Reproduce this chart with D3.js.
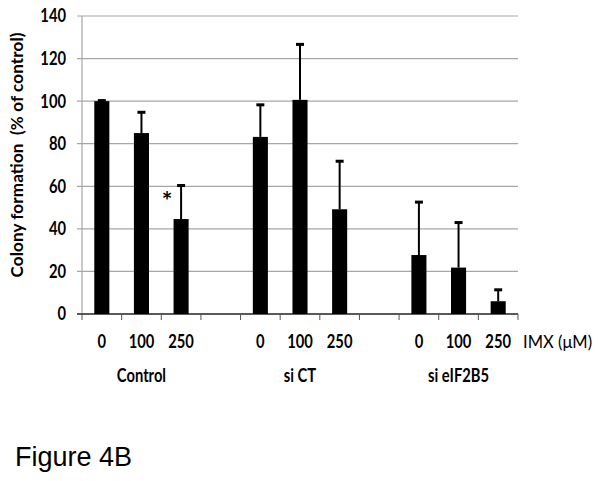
<!DOCTYPE html>
<meta charset="utf-8">
<style>
body { margin: 0; background: #fff; }
text { font-family: Lato, "Open Sans", sans-serif; }
</style>
<body>
<svg width="601" height="481"></svg>
<script src="https://d3js.org/d3.v7.min.js"></script>
<script>

// data
var groups = ["Control", "si CT", "si eIF2B5"];
var doses = ["0", "100", "250"];
var means = [100, 85, 44.6, 83.2, 100.6, 49.2, 27.7, 21.8, 6];
var errors = [0.5, 10, 16, 15.3, 26.3, 22.8, 25.1, 21.4, 5.6];
var yTicks = [0, 20, 40, 60, 80, 100, 120, 140];

var svg = d3.select("svg"),
    plotLeft = 82, plotRight = 518, plotTop = 16, plotBottom = 314;

// the labels use a narrow face, so squeeze them a bit
var squeeze = 0.82;
function at(px, py, sx) { return "translate(" + px + "," + py + ") scale(" + (sx || squeeze) + ",1)"; }

// 11 slots: 3 bars, gap, 3 bars, gap, 3 bars
var slots = [];
var bars = [];
groups.forEach(function(g, gi) {
  doses.forEach(function(d, di) {
    var key = g + "|" + d;
    slots.push(key);
    bars.push({ key: key, group: g, dose: d, value: means[gi * 3 + di], err: errors[gi * 3 + di] });
  });
  if (gi < groups.length - 1) slots.push("gap" + gi);
});

var x = d3.scaleBand().domain(slots).range([plotLeft, plotRight]).paddingInner(0.62).paddingOuter(0.31);
var y = d3.scaleLinear().domain([0, 140]).range([plotBottom, plotTop]);

// gridlines
svg.append("g")
  .selectAll("line")
  .data(yTicks.slice(1))
  .enter().append("line")
    .attr("x1", plotLeft - 5).attr("x2", plotRight)
    .attr("y1", function(d) { return y(d); })
    .attr("y2", function(d) { return y(d); })
    .attr("stroke", "#a6a6a6").attr("stroke-width", 1.2);

// y axis line
svg.append("line")
  .attr("x1", plotLeft).attr("x2", plotLeft)
  .attr("y1", plotTop).attr("y2", plotBottom)
  .attr("stroke", "#a6a6a6").attr("stroke-width", 1.2);

// y tick labels
svg.append("g")
  .selectAll("text")
  .data(yTicks)
  .enter().append("text")
    .attr("transform", function(d) { return at(66, y(d)); })
    .attr("dy", "0.36em")
    .attr("text-anchor", "end")
    .attr("font-size", 18)
    .attr("font-weight", "bold")
    .text(function(d) { return d; });

// x axis
var boundaries = d3.range(slots.length + 1).map(function(i) { return plotLeft + i * x.step(); });
svg.append("line")
  .attr("x1", plotLeft - 5).attr("x2", plotRight)
  .attr("y1", plotBottom).attr("y2", plotBottom)
  .attr("stroke", "#222").attr("stroke-width", 1.3);
svg.append("g")
  .selectAll("line")
  .data(boundaries)
  .enter().append("line")
    .attr("x1", function(d) { return d; }).attr("x2", function(d) { return d; })
    .attr("y1", plotBottom).attr("y2", plotBottom + 6)
    .attr("stroke", "#555").attr("stroke-width", 1);

// bars
svg.append("g")
  .selectAll("rect")
  .data(bars)
  .enter().append("rect")
    .attr("x", function(d) { return x(d.key); })
    .attr("width", x.bandwidth())
    .attr("y", function(d) { return y(d.value); })
    .attr("height", function(d) { return plotBottom - y(d.value); })
    .attr("fill", "#000");

// error bars (upper only)
var eb = svg.append("g").selectAll("g").data(bars).enter().append("g");
eb.append("line")
  .attr("x1", function(d) { return x(d.key) + x.bandwidth() / 2; })
  .attr("x2", function(d) { return x(d.key) + x.bandwidth() / 2; })
  .attr("y1", function(d) { return y(d.value); })
  .attr("y2", function(d) { return y(d.value + d.err); })
  .attr("stroke", "#000").attr("stroke-width", 2);
eb.append("rect")
  .attr("x", function(d) { return x(d.key) + x.bandwidth() / 2 - 4; })
  .attr("width", 8)
  .attr("y", function(d) { return y(d.value + d.err) - 1; })
  .attr("height", 3)
  .attr("fill", "#000");

// significance mark
svg.append("text")
  .attr("x", 167).attr("y", 210)
  .attr("text-anchor", "middle")
  .attr("font-size", 25).attr("font-weight", "bold")
  .text("*");

// dose labels
svg.append("g")
  .selectAll("text")
  .data(bars)
  .enter().append("text")
    .attr("transform", function(d) { return at(x(d.key) + x.bandwidth() / 2, 348); })
    .attr("text-anchor", "middle")
    .attr("font-size", 18).attr("font-weight", "bold")
    .text(function(d) { return d.dose; });

svg.append("text")
  .attr("transform", at(523, 348, 0.92))
  .attr("font-size", 18)
  .text("IMX (\u03bcM)");

// group labels
svg.append("g")
  .selectAll("text")
  .data(groups)
  .enter().append("text")
    .attr("transform", function(g) { return at(x(g + "|100") + x.bandwidth() / 2, 382); })
    .attr("text-anchor", "middle")
    .attr("font-size", 18).attr("font-weight", "bold")
    .text(function(g) { return g; });

// y title
svg.append("text")
  .attr("transform", "translate(23,155) rotate(-90)")
  .attr("text-anchor", "middle")
  .attr("font-size", 17).attr("font-weight", "bold")
  .attr("textLength", 245)
  .attr("lengthAdjust", "spacing")
  .style("white-space", "pre")
  .text("Colony formation  (% of control)");

svg.append("text")
  .attr("x", 15).attr("y", 466)
  .style("font-family", "'Liberation Sans', Arial, sans-serif")
  .attr("font-size", 27)
  .text("Figure 4B");

</script>
</body>
